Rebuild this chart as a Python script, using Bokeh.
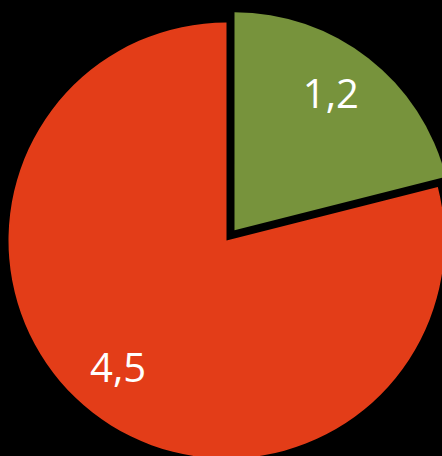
import math
from bokeh.plotting import figure
from bokeh.models import Range1d, ColumnDataSource
from bokeh.core.properties import value
from bokeh.embed import file_html
from bokeh.resources import INLINE

# data
categories = ["A", "B"]
values = [1.2, 4.5]
labels = ["1,2", "4,5"]
colors = ["#77933C", "#E33D18"]
explode = [13, 0]  # px offset of exploded slice

W, H = 442, 456
cx, cy = 226, 216   # pie centre (data units = px)
R = 218
label_r = 0.765 * R

total = sum(values)
start = math.pi / 2
xs, ys, sa, ea, lx, ly = [], [], [], [], [], []
for v, ex in zip(values, explode):
    sweep = v / total * 2 * math.pi
    end = start - sweep
    mid = (start + end) / 2
    ox = cx + ex * math.cos(mid)
    oy = cy + ex * math.sin(mid)
    xs.append(ox); ys.append(oy); sa.append(start); ea.append(end)
    lx.append(ox + label_r * math.cos(mid) - 6)
    ly.append(oy + label_r * math.sin(mid) + 5)
    start = end

src = ColumnDataSource(dict(x=xs, y=ys, sa=sa, ea=ea, color=colors, lx=lx, ly=ly, label=labels))

p = figure(width=W, height=H, output_backend="svg", toolbar_location=None,
           x_range=Range1d(0, W), y_range=Range1d(0, H), min_border=0)
p.wedge(x="x", y="y", radius=R, start_angle="sa", end_angle="ea", direction="clock",
        fill_color="color", line_color=None, source=src)
p.text(x="lx", y="ly", text="label", source=src, text_color="white",
       text_font=value("Open Sans"), text_font_size="40px",
       text_align="center", text_baseline="alphabetic")

p.axis.visible = False
p.grid.visible = False
p.background_fill_color = "black"
p.border_fill_color = "black"
p.outline_line_color = None

html = file_html(p, INLINE)
html = html.replace("</head>", "<style>html,body{margin:0;padding:0;background:#000;overflow:hidden}</style></head>", 1)
open("out.html", "w").write(html)
